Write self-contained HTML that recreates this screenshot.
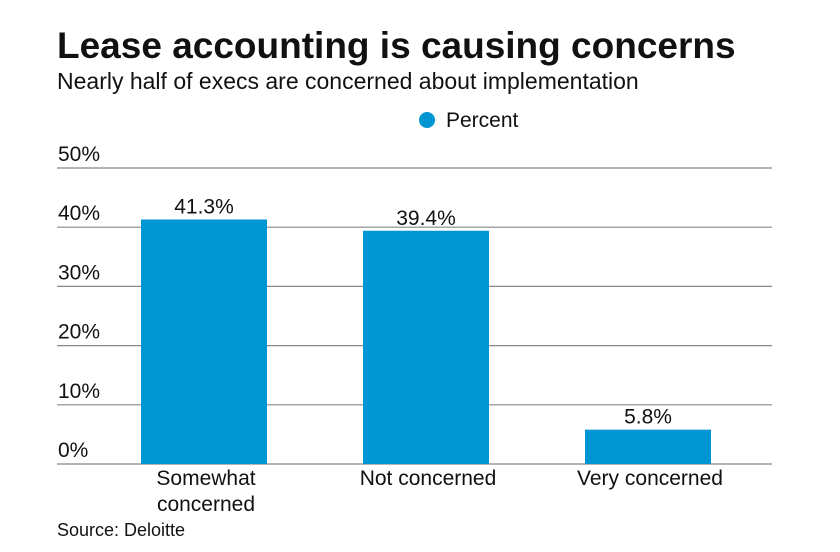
<!DOCTYPE html>
<html><head><meta charset="utf-8"><style>
body{margin:0;background:#fff;}
svg text{font-family:"Liberation Sans",sans-serif;fill:#111;}
</style></head><body>
<svg width="840" height="547">
<text x="57" y="58" font-size="37" font-weight="bold">Lease accounting is causing concerns</text>
<text x="57" y="89" font-size="23">Nearly half of execs are concerned about implementation</text>
<circle cx="427" cy="120" r="8" fill="#0095d3"/>
<text x="446" y="127" font-size="21">Percent</text>
<g id="grid"></g><g id="bars"></g>
<text x="57" y="536" font-size="18">Source: Deloitte</text>
</svg>
<script>
const categories=[["Somewhat","concerned"],["Not concerned"],["Very concerned"]];
const values=[41.3,39.4,5.8];
const valueLabels=["41.3%","39.4%","5.8%"];
const ticks=[0,10,20,30,40,50];
const tickLabels=["0%","10%","20%","30%","40%","50%"];
const NS="http://www.w3.org/2000/svg";
const y=v=>464-v*5.92;
const xc=i=>204+i*222;
const g=document.getElementById('grid'),b=document.getElementById('bars');
function mk(tag,attrs,parent,txt){const e=document.createElementNS(NS,tag);for(const k in attrs)e.setAttribute(k,attrs[k]);if(txt!=null)e.textContent=txt;parent.appendChild(e);return e;}
ticks.forEach((t,i)=>{
 const l=mk('line',{x1:57,x2:772,y1:y(t),y2:y(t),stroke:'#888','stroke-width':1.2},g);
 
 
 const tx=mk('text',{x:58,y:y(t)-7,'font-size':21},g,tickLabels[i]);
 
 
});
values.forEach((v,i)=>{
 const r=mk('rect',{x:xc(i)-63,y:y(v),width:126,height:y(0)-y(v),fill:'#0095d3'},b);
 
 
 const vl=mk('text',{x:xc(i),y:y(v)-6,'font-size':21,'text-anchor':'middle'},b,valueLabels[i]);
 
 
 categories[i].forEach((line,j)=>{
  const c=mk('text',{x:xc(i)+2,y:485+j*26,'font-size':21,'text-anchor':'middle'},b,line);
  
  
 });
});
</script>
</body></html>
